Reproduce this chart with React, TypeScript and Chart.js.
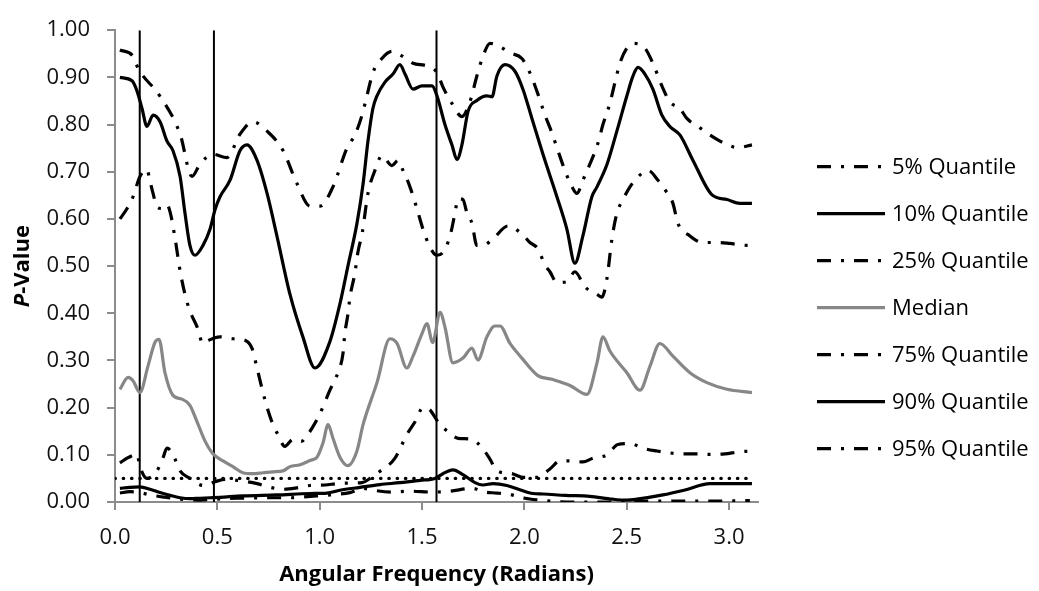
import React, { useEffect, useRef } from "react";
import { Chart, registerables } from "chart.js";

Chart.register(...registerables);

// ---------- data ----------
const xTicks = [0, 0.5, 1.0, 1.5, 2.0, 2.5, 3.0];
const yTicks = [0, 0.1, 0.2, 0.3, 0.4, 0.5, 0.6, 0.7, 0.8, 0.9, 1.0];

const seriesNames = [
  "5% Quantile",
  "10% Quantile",
  "25% Quantile",
  "Median",
  "75% Quantile",
  "90% Quantile",
  "95% Quantile",
];

const q05X = [0.024, 0.088, 0.112, 0.22, 0.318, 0.376, 0.415, 0.479, 0.547, 0.611, 0.674, 0.743, 0.821, 0.889, 0.953, 1.001, 1.065, 1.133, 1.172, 1.207, 1.231, 1.26, 1.304, 1.353, 1.392, 1.456, 1.524, 1.573, 1.602, 1.646, 1.695, 1.734, 1.768, 1.798, 1.832, 1.881, 1.93, 1.988, 2.027, 2.066, 2.101, 2.135, 2.164, 2.198, 2.233, 2.257, 2.286, 2.32, 2.36, 2.384, 2.418, 2.443, 2.467, 2.501, 2.531, 2.589, 2.628, 2.672, 2.711, 2.76, 2.794, 2.858, 2.907, 2.956, 3.004, 3.043, 3.112];
const q05Y = [0.958, 0.945, 0.92, 0.86, 0.78, 0.69, 0.716, 0.737, 0.73, 0.78, 0.806, 0.786, 0.745, 0.675, 0.627, 0.627, 0.668, 0.75, 0.778, 0.82, 0.861, 0.91, 0.94, 0.955, 0.948, 0.93, 0.924, 0.91, 0.88, 0.845, 0.817, 0.848, 0.903, 0.945, 0.972, 0.965, 0.952, 0.94, 0.91, 0.865, 0.82, 0.782, 0.745, 0.703, 0.668, 0.654, 0.682, 0.716, 0.761, 0.8, 0.845, 0.89, 0.93, 0.962, 0.972, 0.962, 0.93, 0.882, 0.848, 0.834, 0.813, 0.793, 0.778, 0.765, 0.755, 0.751, 0.757];

const q10X = [0.024, 0.083, 0.107, 0.132, 0.156, 0.186, 0.22, 0.254, 0.283, 0.318, 0.342, 0.366, 0.391, 0.43, 0.464, 0.489, 0.513, 0.562, 0.611, 0.645, 0.694, 0.743, 0.791, 0.855, 0.918, 0.977, 1.05, 1.099, 1.138, 1.182, 1.212, 1.236, 1.26, 1.28, 1.319, 1.358, 1.392, 1.417, 1.456, 1.5, 1.549, 1.573, 1.612, 1.646, 1.671, 1.695, 1.725, 1.768, 1.817, 1.842, 1.866, 1.905, 1.954, 1.993, 2.037, 2.091, 2.159, 2.208, 2.247, 2.286, 2.33, 2.355, 2.404, 2.452, 2.501, 2.531, 2.555, 2.589, 2.628, 2.672, 2.711, 2.76, 2.824, 2.917, 2.99, 3.053, 3.112];
const q10Y = [0.9, 0.893, 0.872, 0.834, 0.796, 0.82, 0.806, 0.765, 0.745, 0.69, 0.612, 0.544, 0.523, 0.544, 0.578, 0.62, 0.647, 0.682, 0.745, 0.757, 0.724, 0.654, 0.564, 0.44, 0.35, 0.284, 0.34, 0.42, 0.5, 0.59, 0.674, 0.765, 0.834, 0.861, 0.89, 0.907, 0.927, 0.907, 0.875, 0.882, 0.882, 0.861, 0.8, 0.757, 0.726, 0.757, 0.828, 0.851, 0.861, 0.859, 0.903, 0.927, 0.913, 0.875, 0.813, 0.737, 0.647, 0.578, 0.506, 0.564, 0.647, 0.668, 0.716, 0.786, 0.861, 0.903, 0.921, 0.907, 0.875, 0.82, 0.796, 0.778, 0.724, 0.651, 0.641, 0.633, 0.633];

const q25X = [0.024, 0.059, 0.088, 0.122, 0.156, 0.171, 0.186, 0.205, 0.23, 0.254, 0.269, 0.293, 0.318, 0.342, 0.366, 0.401, 0.43, 0.454, 0.513, 0.576, 0.635, 0.669, 0.694, 0.723, 0.747, 0.772, 0.796, 0.83, 0.87, 0.914, 0.928, 0.962, 1.001, 1.05, 1.089, 1.114, 1.123, 1.138, 1.148, 1.172, 1.187, 1.207, 1.236, 1.27, 1.304, 1.353, 1.383, 1.407, 1.441, 1.475, 1.505, 1.539, 1.573, 1.602, 1.637, 1.661, 1.676, 1.7, 1.72, 1.744, 1.768, 1.798, 1.847, 1.92, 1.988, 2.027, 2.066, 2.101, 2.125, 2.159, 2.208, 2.247, 2.296, 2.355, 2.379, 2.404, 2.428, 2.452, 2.482, 2.516, 2.555, 2.604, 2.653, 2.687, 2.726, 2.75, 2.809, 2.872, 2.941, 3.004, 3.087, 3.112];
const q25Y = [0.6, 0.622, 0.647, 0.69, 0.705, 0.68, 0.654, 0.625, 0.622, 0.63, 0.615, 0.56, 0.49, 0.44, 0.405, 0.371, 0.336, 0.342, 0.35, 0.346, 0.343, 0.326, 0.284, 0.232, 0.195, 0.164, 0.143, 0.118, 0.133, 0.129, 0.135, 0.156, 0.187, 0.237, 0.274, 0.315, 0.357, 0.398, 0.434, 0.485, 0.53, 0.568, 0.654, 0.703, 0.734, 0.713, 0.724, 0.703, 0.668, 0.622, 0.578, 0.54, 0.523, 0.529, 0.564, 0.612, 0.643, 0.641, 0.612, 0.591, 0.544, 0.544, 0.558, 0.585, 0.568, 0.55, 0.537, 0.502, 0.488, 0.465, 0.467, 0.488, 0.456, 0.44, 0.434, 0.475, 0.558, 0.612, 0.641, 0.668, 0.689, 0.703, 0.682, 0.662, 0.633, 0.591, 0.564, 0.55, 0.55, 0.548, 0.544, 0.544];

const medX = [0.024, 0.064, 0.088, 0.122, 0.161, 0.195, 0.215, 0.244, 0.283, 0.327, 0.366, 0.401, 0.44, 0.479, 0.528, 0.576, 0.625, 0.674, 0.723, 0.772, 0.821, 0.855, 0.904, 0.953, 0.987, 1.016, 1.041, 1.065, 1.099, 1.138, 1.182, 1.212, 1.28, 1.343, 1.378, 1.426, 1.456, 1.5, 1.524, 1.552, 1.588, 1.612, 1.651, 1.7, 1.744, 1.773, 1.817, 1.856, 1.881, 1.93, 1.988, 2.066, 2.135, 2.223, 2.306, 2.355, 2.384, 2.418, 2.501, 2.565, 2.614, 2.662, 2.726, 2.809, 2.892, 2.99, 3.112];
const medY = [0.239, 0.264, 0.257, 0.232, 0.288, 0.338, 0.345, 0.274, 0.226, 0.218, 0.205, 0.17, 0.129, 0.102, 0.087, 0.075, 0.062, 0.06, 0.062, 0.064, 0.066, 0.075, 0.079, 0.088, 0.095, 0.125, 0.164, 0.135, 0.095, 0.077, 0.108, 0.164, 0.253, 0.346, 0.336, 0.284, 0.309, 0.357, 0.378, 0.338, 0.402, 0.371, 0.295, 0.305, 0.326, 0.301, 0.35, 0.373, 0.373, 0.336, 0.305, 0.268, 0.26, 0.247, 0.228, 0.295, 0.35, 0.32, 0.274, 0.237, 0.288, 0.336, 0.309, 0.274, 0.253, 0.239, 0.232];

const q75X = [0.024, 0.059, 0.093, 0.107, 0.122, 0.156, 0.205, 0.234, 0.254, 0.269, 0.293, 0.318, 0.366, 0.43, 0.489, 0.537, 0.611, 0.694, 0.757, 0.821, 0.889, 0.953, 1.026, 1.084, 1.133, 1.207, 1.246, 1.285, 1.368, 1.426, 1.466, 1.505, 1.539, 1.578, 1.627, 1.676, 1.744, 1.798, 1.832, 1.866, 1.939, 1.993, 2.062, 2.125, 2.174, 2.223, 2.286, 2.335, 2.404, 2.457, 2.516, 2.579, 2.648, 2.711, 2.775, 2.843, 2.907, 2.98, 3.043, 3.102];
const q75Y = [0.083, 0.093, 0.1, 0.102, 0.075, 0.05, 0.066, 0.093, 0.114, 0.11, 0.091, 0.066, 0.05, 0.035, 0.043, 0.048, 0.045, 0.039, 0.031, 0.027, 0.03, 0.035, 0.036, 0.039, 0.04, 0.041, 0.05, 0.062, 0.093, 0.143, 0.17, 0.2, 0.195, 0.17, 0.149, 0.135, 0.133, 0.112, 0.091, 0.066, 0.06, 0.052, 0.052, 0.07, 0.087, 0.087, 0.085, 0.093, 0.1, 0.122, 0.124, 0.114, 0.108, 0.104, 0.102, 0.102, 0.101, 0.102, 0.106, 0.108];

const q90X = [0.024, 0.073, 0.122, 0.171, 0.22, 0.269, 0.318, 0.366, 0.415, 0.464, 0.513, 0.625, 0.791, 0.953, 1.036, 1.099, 1.197, 1.295, 1.392, 1.49, 1.563, 1.602, 1.651, 1.7, 1.759, 1.798, 1.847, 1.915, 1.978, 2.042, 2.091, 2.2, 2.32, 2.43, 2.5, 2.55, 2.677, 2.78, 2.907, 3.0, 3.112];
const q90Y = [0.029, 0.031, 0.032, 0.027, 0.02, 0.014, 0.009, 0.007, 0.008, 0.009, 0.01, 0.013, 0.015, 0.018, 0.019, 0.025, 0.031, 0.037, 0.041, 0.046, 0.05, 0.06, 0.068, 0.058, 0.041, 0.036, 0.039, 0.035, 0.026, 0.018, 0.017, 0.014, 0.012, 0.006, 0.004, 0.006, 0.015, 0.025, 0.039, 0.039, 0.039];

const q95X = [0.024, 0.073, 0.122, 0.171, 0.244, 0.318, 0.415, 0.489, 0.596, 0.757, 0.855, 0.953, 1.05, 1.148, 1.212, 1.26, 1.353, 1.441, 1.549, 1.637, 1.744, 1.808, 1.866, 1.939, 2.003, 2.076, 2.15, 2.272, 2.467, 2.614, 2.809, 2.956, 3.102];
const q95Y = [0.019, 0.022, 0.02, 0.015, 0.01, 0.006, 0.004, 0.006, 0.008, 0.009, 0.009, 0.012, 0.015, 0.02, 0.029, 0.025, 0.021, 0.023, 0.021, 0.023, 0.029, 0.021, 0.019, 0.015, 0.008, 0.004, 0.001, 0, 0, 0.002, 0.002, 0.002, 0.003];

// reference frequencies (periods 52, 13 and 4) and significance level
const refPeriods = [52, 13, 4];
const sigLevel = 0.05;
const sigRange = [0, 3.11];

// ---------- styles ----------
const BLACK = "#000000";
const GRAY = "#878787";
const AXIS = "#8c8c8c";
const DASHDOT = [14, 10, 3, 10];
const LINE_W = 3.2;
const FONT = "'Open Sans', 'Noto Sans', sans-serif";

const seriesX = [q05X, q10X, q25X, medX, q75X, q90X, q95X];
const seriesY = [q05Y, q10Y, q25Y, medY, q75Y, q90Y, q95Y];
const seriesStyle = [
  { color: BLACK, dash: DASHDOT },
  { color: BLACK, dash: [] },
  { color: BLACK, dash: DASHDOT },
  { color: GRAY, dash: [] },
  { color: BLACK, dash: DASHDOT },
  { color: BLACK, dash: [] },
  { color: BLACK, dash: DASHDOT },
];

const textPlugin = {
  id: "customText",
  afterDraw(chart: any) {
    const ctx = chart.ctx;
    const area = chart.chartArea;
    ctx.save();
    ctx.fillStyle = "#000";

    // x-axis title
    ctx.font = `bold 22px ${FONT}`;
    ctx.textAlign = "center";
    ctx.textBaseline = "alphabetic";
    ctx.fillText("Angular Frequency (Radians)", (area.left + area.right) / 2, 581);

    // y-axis title with italic P
    const partA = "P";
    const partB = "-Value";
    ctx.font = `italic bold 22px ${FONT}`;
    const wA = ctx.measureText(partA).width;
    ctx.font = `bold 22px ${FONT}`;
    const wB = ctx.measureText(partB).width;
    const total = wA + wB;
    ctx.save();
    ctx.translate(29, (area.top + area.bottom) / 2);
    ctx.rotate(-Math.PI / 2);
    ctx.textAlign = "left";
    ctx.font = `italic bold 22px ${FONT}`;
    ctx.fillText(partA, -total / 2, 0);
    ctx.font = `bold 22px ${FONT}`;
    ctx.fillText(partB, -total / 2 + wA, 0);
    ctx.restore();

    // legend
    const lx = area.right + 59;
    const lw = 68;
    const top = 166.7;
    const step = 47;
    ctx.font = `22px ${FONT}`;
    ctx.textAlign = "left";
    ctx.textBaseline = "middle";
    seriesNames.forEach((name, i) => {
      const y = top + i * step;
      const st = seriesStyle[i];
      ctx.save();
      ctx.strokeStyle = st.color;
      ctx.lineWidth = LINE_W;
      ctx.lineCap = "butt";
      ctx.setLineDash(st.dash);
      ctx.beginPath();
      ctx.moveTo(lx, y);
      ctx.lineTo(lx + lw, y);
      ctx.stroke();
      ctx.restore();
      ctx.fillStyle = "#000";
      ctx.fillText(name, lx + lw + 7, y + 1.5);
    });
    ctx.restore();
  },
};

export default function App() {
  const ref = useRef<HTMLCanvasElement | null>(null);

  useEffect(() => {
    if (!ref.current) return;

    const datasets: any[] = seriesNames.map((name, i) => ({
      label: name,
      data: seriesX[i].map((x, j) => ({ x, y: seriesY[i][j] })),
      borderColor: seriesStyle[i].color,
      borderWidth: LINE_W,
      borderDash: seriesStyle[i].dash,
      borderCapStyle: "butt",
      borderJoinStyle: "round",
      pointRadius: 0,
      fill: false,
      cubicInterpolationMode: "monotone",
    }));

    datasets.push({
      label: "sig",
      data: sigRange.map((x) => ({ x, y: sigLevel })),
      borderColor: BLACK,
      borderWidth: 3.4,
      borderDash: [0.3, 8.0],
      borderCapStyle: "round",
      pointRadius: 0,
      fill: false,
    });

    refPeriods.forEach((p) => {
      const f = (2 * Math.PI) / p;
      datasets.push({
        label: "ref",
        data: [
          { x: f, y: 0 },
          { x: f, y: 1 },
        ],
        borderColor: BLACK,
        borderWidth: 2,
        pointRadius: 0,
        fill: false,
      });
    });

    const chart = new Chart(ref.current, {
      type: "line",
      data: { datasets },
      options: {
        responsive: false,
        devicePixelRatio: 1,
        animation: false,
        events: [],
        layout: { padding: { top: 20, right: 281, bottom: 0, left: 0 } },
        plugins: {
          legend: { display: false },
          tooltip: { enabled: false },
        },
        scales: {
          x: {
            type: "linear",
            min: 0,
            max: Math.PI,
            afterBuildTicks: (s: any) => {
              s.ticks = xTicks.map((v) => ({ value: v }));
            },
            afterFit: (s: any) => {
              s.height = 89;
            },
            ticks: {
              padding: 15,
              color: "#111",
              font: { family: FONT, size: 22 },
              callback: (v: any) => Number(v).toFixed(1),
            },
            grid: {
              drawOnChartArea: false,
              drawTicks: true,
              tickLength: 8,
              color: AXIS,
              lineWidth: 2,
            },
            border: { display: true, color: AXIS, width: 2 },
          },
          y: {
            type: "linear",
            min: 0,
            max: 1,
            afterBuildTicks: (s: any) => {
              s.ticks = yTicks.map((v) => ({ value: v }));
            },
            afterFit: (s: any) => {
              s.width = 115;
            },
            ticks: {
              padding: 17,
              color: "#111",
              font: { family: FONT, size: 22 },
              callback: (v: any) => Number(v).toFixed(2),
            },
            grid: {
              drawOnChartArea: false,
              drawTicks: true,
              tickLength: 8,
              color: AXIS,
              lineWidth: 2,
            },
            border: { display: true, color: AXIS, width: 2 },
          },
        },
      },
      plugins: [textPlugin],
    });

    return () => chart.destroy();
  }, []);

  return (
    <canvas
      ref={ref}
      width={1039}
      height={591}
      style={{ position: "absolute", left: 0, top: 0, display: "block" }}
    />
  );
}
